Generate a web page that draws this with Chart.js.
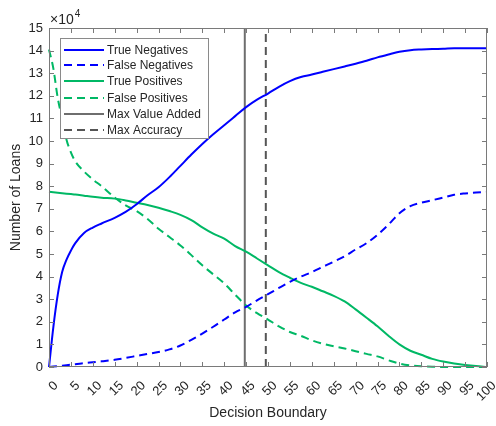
<!DOCTYPE html>
<html>
<head>
<meta charset="utf-8">
<script src="https://cdn.jsdelivr.net/npm/chart.js@4"></script>
<style>
  html, body { margin: 0; padding: 0; background: #fff; }
  #wrap { width: 496px; height: 426px; }
</style>
</head>
<body>
<div id="wrap"><canvas id="chart" width="496" height="426"></canvas></div>
<script>
// decision boundary positions (x) and counts in units of 1e4
const boundaries = [0, 1, 2, 3, 4, 5, 6, 8, 10, 12, 15, 17.5, 20, 22.5, 25, 27.5, 30, 32.5, 35, 37.5, 40, 42.5, 45, 47.5, 50,
  52.5, 55, 57.5, 60, 62.5, 65, 67.5, 70, 72.5, 75, 77.5, 80, 82.5, 85, 87.5, 90, 92.5, 95, 97.5, 100];

const trueNegatives = [0, 1.78, 3.2, 4.2, 4.75, 5.15, 5.48, 5.93, 6.17, 6.35, 6.6, 6.86, 7.2, 7.6, 7.95, 8.4, 8.9, 9.4, 9.87, 10.3, 10.7,
  11.1, 11.5, 11.83, 12.1, 12.4, 12.65, 12.83, 12.94, 13.06, 13.18, 13.3, 13.42, 13.55, 13.7, 13.83, 13.95, 14.02, 14.05, 14.07,
  14.08, 14.1, 14.1, 14.1, 14.1];

const falseNegatives = [0, 0.02, 0.04, 0.06, 0.08, 0.1, 0.12, 0.17, 0.21, 0.25, 0.32, 0.4, 0.49, 0.58, 0.66, 0.78, 0.95, 1.2, 1.48, 1.78,
  2.1, 2.42, 2.66, 2.95, 3.22, 3.5, 3.77, 4.0, 4.2, 4.43, 4.66, 4.9, 5.2, 5.48, 5.85, 6.3, 6.8, 7.12, 7.27, 7.38, 7.5, 7.62, 7.68, 7.72, 7.75];

const truePositives = [7.75, 7.73, 7.71, 7.69, 7.67, 7.65, 7.63, 7.58, 7.53, 7.49, 7.45, 7.37, 7.27, 7.17, 7.05, 6.9, 6.73, 6.5, 6.18,
  5.9, 5.68, 5.35, 5.1, 4.8, 4.5, 4.2, 3.95, 3.72, 3.55, 3.35, 3.15, 2.9, 2.55, 2.18, 1.8, 1.38, 1.0, 0.72, 0.54, 0.36, 0.24, 0.15, 0.09, 0.04, 0];

const falsePositives = [14.05, 13.2, 11.9, 11.0, 10.06, 9.5, 9.1, 8.65, 8.3, 8.0, 7.5, 7.15, 6.9, 6.55, 6.12, 5.75, 5.38, 4.95, 4.5,
  4.1, 3.7, 3.2, 2.72, 2.38, 2.1, 1.8, 1.55, 1.38, 1.18, 1.03, 0.92, 0.82, 0.7, 0.58, 0.47, 0.3, 0.15, 0.07, 0.03, 0.01, 0, 0, 0, 0, 0];

const maxValueAdded = 44.7;
const maxAccuracy = 49.5;
const yRange = [0, 15];

const FONT = '"Liberation Sans", Arial, sans-serif';
const TEXT = '#262626';
const BLUE = '#0000ff';
const GREEN = '#00b865';

function toPoints(values) {
  return boundaries.map((b, i) => ({ x: b, y: values[i] }));
}

function series(label, values, color, dash) {
  return {
    label,
    data: toPoints(values),
    borderColor: color,
    borderWidth: 2,
    borderDash: dash,
    pointRadius: 0,
    cubicInterpolationMode: 'monotone',
    clip: 3
  };
}

function vline(label, x, color, dash) {
  return {
    label,
    data: [{ x, y: yRange[0] }, { x, y: yRange[1] }],
    borderColor: color,
    borderWidth: 2,
    borderDash: dash,
    pointRadius: 0,
    clip: 3
  };
}

const matlabLook = {
  id: 'matlabLook',
  afterDatasetsDraw(chart) {
    const { ctx, chartArea: a, scales } = chart;
    ctx.save();
    ctx.strokeStyle = '#7a7a7a';
    ctx.lineWidth = 1;
    ctx.strokeRect(a.left + 0.5, a.top + 0.5, a.right - a.left - 1, a.bottom - a.top - 1);
    // inward ticks on all sides
    ctx.beginPath();
    scales.x.ticks.forEach((t) => {
      const px = Math.round(scales.x.getPixelForValue(t.value)) + 0.5;
      ctx.moveTo(px, a.bottom); ctx.lineTo(px, a.bottom - 5);
      ctx.moveTo(px, a.top); ctx.lineTo(px, a.top + 5);
    });
    scales.y.ticks.forEach((t) => {
      const py = Math.round(scales.y.getPixelForValue(t.value)) + 0.5;
      ctx.moveTo(a.left, py); ctx.lineTo(a.left + 5, py);
      ctx.moveTo(a.right, py); ctx.lineTo(a.right - 5, py);
    });
    ctx.stroke();
    ctx.restore();
  },
  afterDraw(chart) {
    const { ctx, chartArea: a } = chart;
    ctx.save();
    ctx.fillStyle = TEXT;

    // exponent label
    ctx.font = '14px ' + FONT;
    ctx.textAlign = 'left';
    ctx.textBaseline = 'alphabetic';
    ctx.fillText('\u00d710', 50, 24);
    const w = ctx.measureText('\u00d710').width;
    ctx.font = '10px ' + FONT;
    ctx.fillText('4', 50 + w + 1, 17);

    // axis titles
    ctx.font = '14px ' + FONT;
    ctx.textAlign = 'center';
    ctx.textBaseline = 'middle';
    ctx.fillText('Decision Boundary', (a.left + a.right) / 2, 413);
    ctx.save();
    ctx.translate(16, (a.top + a.bottom) / 2);
    ctx.rotate(-Math.PI / 2);
    ctx.fillText('Number of Loans', 0, 0);
    ctx.restore();

    // legend
    const bx = 60, by = 38, bw = 148, bh = 100;
    ctx.fillStyle = '#fff';
    ctx.fillRect(bx, by, bw, bh);
    ctx.strokeStyle = '#8a8a8a';
    ctx.lineWidth = 1;
    ctx.strokeRect(bx + 0.5, by + 0.5, bw, bh);
    const rows = [50, 65, 81, 98, 114, 130];
    ctx.font = '12px ' + FONT;
    ctx.textAlign = 'left';
    chart.data.datasets.forEach((ds, i) => {
      const y = rows[i];
      ctx.strokeStyle = ds.borderColor;
      ctx.lineWidth = 2;
      ctx.setLineDash(ds.borderDash || []);
      ctx.beginPath();
      ctx.moveTo(64, y);
      ctx.lineTo(104, y);
      ctx.stroke();
      ctx.setLineDash([]);
      ctx.fillStyle = TEXT;
      ctx.fillText(ds.label, 107, y + 1);
    });
    ctx.restore();
  }
};

new Chart(document.getElementById('chart').getContext('2d'), {
  type: 'line',
  data: {
    datasets: [
      series('True Negatives', trueNegatives, BLUE, []),
      series('False Negatives', falseNegatives, BLUE, [8, 5]),
      series('True Positives', truePositives, GREEN, []),
      series('False Positives', falsePositives, GREEN, [8, 5]),
      vline('Max Value Added', maxValueAdded, '#6e6e6e', []),
      vline('Max Accuracy', maxAccuracy, '#555555', [8, 5])
    ]
  },
  options: {
    responsive: false,
    animation: false,
    layout: { padding: { top: 28, right: 9, left: 0, bottom: 0 } },
    plugins: { legend: { display: false }, tooltip: { enabled: false } },
    scales: {
      x: {
        type: 'linear',
        min: 0,
        max: 100,
        afterFit: (s) => { s.height = 59; s.paddingLeft = 0; s.paddingRight = 0; },
        grid: { display: false, drawTicks: false },
        border: { display: false },
        ticks: {
          stepSize: 5,
          autoSkip: false,
          minRotation: 45,
          maxRotation: 45,
          padding: 11,
          labelOffset: 7,
          color: TEXT,
          font: { family: FONT, size: 13 }
        }
      },
      y: {
        min: yRange[0],
        max: yRange[1],
        afterFit: (s) => { s.width = 49; s.paddingTop = 0; s.paddingBottom = 0; },
        grid: { display: false, drawTicks: false },
        border: { display: false },
        ticks: {
          stepSize: 1,
          padding: 6,
          color: TEXT,
          font: { family: FONT, size: 13 }
        }
      }
    }
  },
  plugins: [matlabLook]
});
</script>
</body>
</html>
